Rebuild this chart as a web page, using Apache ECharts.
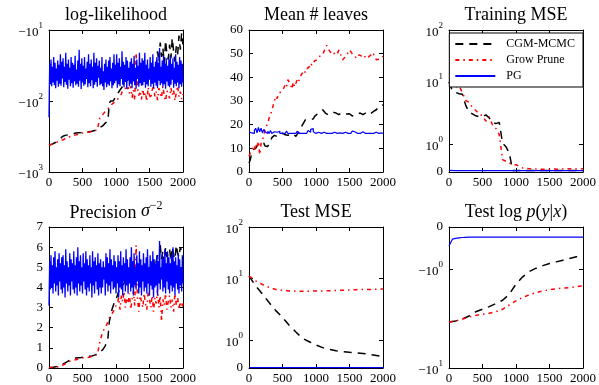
<!DOCTYPE html>
<html><head><meta charset="utf-8">
<script src="https://cdn.jsdelivr.net/npm/echarts@6/dist/echarts.min.js"></script>
<style>html,body{margin:0;padding:0;background:#fff}#c{width:599px;height:385px}</style>
</head><body><div id="c"></div>
<script>
// ---------------- DATA ----------------
const SERIES_NAMES = ['CGM-MCMC', 'Grow Prune', 'PG'];
const X_TICKS = [0, 500, 1000, 1500, 2000];
const STEP_DENSE = 10;   // iterations between samples for PG traces
const STEP_NOISY = 20;   // iterations between samples for noisy traces
const STEP_MSE = 50;
const STEP_SMOOTH = 100;

// log-likelihood (step 20; PG step 10)
const llBlack = [-420,-415,-408,-400,-390,-385,-375,-362,-350,-335,
 -316,-310,-305,-300,-300,-298,-295,-292,-290,-285,
 -283,-282,-280,-280,-278,-276,-275,-275,-274,-272,
 -270,-268,-266,-262,-260,-257,-250,-240,-235,-228,
 -225,-215,-205,-197,-190,-107,-100,-98,-100,-92,
 -88,-80,-75,-70,-66,-62,-58,-55,-52,-50,
 -48,-52,-45,-50,-46,-44,-48,-42,-46,-44,
 -42,-45,-40,-44,-38,-42,-36,-40,-35,-38,
 -32,-20,-28,-15,-24,-18,-30,-14,-22,-26,
 -16,-25,-13,-20,-28,-17,-22,-12,-19,-11,
 -16];
const llRed = [-417,-410,-405,-398,-392,-388,-380,-372,-365,-360,
 -355,-348,-340,-333,-325,-318,-316,-310,-305,-302,
 -300,-296,-292,-288,-285,-283,-280,-278,-276,-275,
 -275,-270,-268,-265,-262,-260,-258,-257,-170,-160,
 -157,-150,-140,-134,-128,-120,-115,-110,-107,-104,
 -100,-95,-90,-86,-80,-70,-74,-66,-72,-64,
 -78,-62,-90,-70,-98,-21,-66,-84,-72,-95,
 -68,-88,-76,-102,-64,-82,-93,-70,-60,-86,
 -74,-97,-66,-80,-90,-62,-85,-100,-72,-78,
 -92,-65,-83,-70,-99,-76,-61,-88,-74,-94,
 -80];
const llBlue = [-170,-30,-58,-26,-62,-33,-55,-24,-60,-29,-66,-35,-52,-27,-63,-31,-57,-22,-61,-28,
 -48,-25,-64,-33,-54,-21,-59,-30,-67,-26,-50,-34,-62,-24,-56,-29,-65,-31,-53,-23,
 -60,-36,-57,-27,-63,-19,-52,-30,-68,-25,-55,-32,-61,-24,-58,-35,-49,-28,-64,-22,
 -56,-30,-62,-26,-51,-33,-66,-21,-59,-29,-54,-25,-63,-32,-47,-27,-60,-34,-57,-24,
 -62,-38,-70,-30,-55,-26,-64,-33,-58,-27,-61,-24,-53,-35,-66,-29,-60,-22,-56,-31,
 -52,-22,-65,-29,-58,-25,-62,-33,-49,-20,-59,-28,-64,-31,-54,-24,-67,-27,-51,-34,
 -62,-28,-57,-25,-66,-30,-53,-23,-60,-34,-67,-26,-49,-32,-63,-21,-56,-29,-61,-25,
 -60,-27,-54,-21,-65,-31,-58,-26,-62,-35,-50,-24,-63,-29,-57,-22,-66,-33,-55,-28,
 -61,-24,-66,-29,-52,-18,-60,-33,-56,-27,-63,-23,-58,-30,-67,-25,-53,-32,-61,-26,
 -64,-23,-59,-30,-50,-25,-65,-34,-57,-22,-62,-28,-55,-31,-66,-24,-58,-27,-63,-30,
 -55];

// Mean # leaves (step 20)
const leavesBlack = [3.8,5.2,8,9.4,9,10,11,12.2,11.5,12.5,
 12.9,12.2,11,10.5,10.8,10.8,13,14.5,15,15.5,
 15.7,15,15.5,16,15.2,16.4,15.8,15.7,16.2,15.5,
 15.7,16,16.4,16.2,15.5,15,16,16.4,17.5,19,
 20,21,22,22.5,22,22.8,22,21.4,22.5,23.5,
 24.2,24.5,24.9,25.5,26,26.3,25.5,24.9,24.5,24.2,
 24.2,25,25.6,25.2,24.9,24.9,24.5,24.2,24.5,24.9,
 24.9,24.5,24.2,24.5,24.6,24.6,24,23.7,23.8,24,
 24.2,24.5,24.9,24.9,24.5,24.2,24.5,24.9,24.6,24.2,
 24.2,24.8,25.6,25.6,26,26.3,27,27.7,27.5,28,
 28.4];
const leavesRed = [6.6,8,9,10.8,9.5,12,10,13,7.3,12,
 13.6,15,18,19.5,20.5,22.8,24,26,28,30,
 32,31,33,32.5,34,34.7,35.5,37,36,39,
 39.6,37,35,38,36,37.5,39,38,40,41,
 41.7,43,42,43.5,44,44.5,46,45,46,47,
 46.6,47.5,48,49,48.5,49.5,51,52.5,53.5,52,
 51.6,50.5,50,51,49.5,48.8,50,51.5,50.5,48.5,
 47.4,48,48.8,49.5,50.5,51.6,51,50,50.5,49,
 48,48.5,49.5,50,49,48.8,49.5,48,47.4,48.5,
 48.8,49.5,50.5,50.9,49,47.4,47.8,47.6,48,48.5,
 48.8];
const leavesBlue = [17,16.5,17,16.3,17.5,18.5,16.5,18.8,17,18.5,
 16.5,18,17,16.3,17.2,16.3,17.5,16.3,17,16.3,
 16.8,16.3,17.2,16.3,16.3,17,16.3,16.5,17.3,16.3,
 16.3,16.8,16.3,17,16.3,16.3,17.2,16.3,16.3,16.8,
 16.3,17,16.3,16.3,17.5,16.8,18,18.3,17,16.3,
 16.3,16.8,16.3,16.3,16.3,16.8,16.3,16.3,16.3,16.3,
 16.5,16.3,16.3,16.8,16.3,16.3,16.3,16.5,16.3,16.3,
 16.3,16.8,16.3,16.3,16.3,16.3,17,17.3,17,16.3,
 16.3,16.8,16.3,16.3,17,16.3,16.3,16.8,16.3,16.3,
 16.3,16.5,16.3,16.3,16.8,16.3,16.3,16.3,16.5,16.3,
 16.3];

// Training MSE (step 50, PG step 100)
const trainMseBlack = [9.8,7.0,6.6,6.3,6.2,4.1,3.2,3.0,2.8,2.7,
 2.7,2.9,2.6,2.2,2.1,2.2,1.02,0.9,0.67,0.05,
 0.05,0.05,0.05,0.05,0.05,0.05,0.05,0.05,0.05,0.05,
 0.05,0.05,0.05,0.05,0.05,0.05,0.05,0.05,0.05,0.05,
 0.05];
const trainMseRed = [9.4,8.9,8.1,8.4,6.6,4.9,4.6,3.8,3.4,3.0,
 2.8,2.3,2.7,2.0,1.76,1.4,0.44,0.38,0.32,0.26,
 0.26,0.2,0.14,0.13,0.12,0.1,0.11,0.1,0.1,0.09,
 0.1,0.12,0.1,0.09,0.11,0.1,0.12,0.1,0.11,0.1,
 0.12];
const trainMseBlue = [0.06,0.05,0.05,0.05,0.05,0.05,0.05,0.05,0.05,0.05,
 0.05,0.05,0.05,0.05,0.05,0.05,0.05,0.05,0.05,0.05,0.05];

// Precision (step 20; PG step 10)
const precBlack = [0.02,0.02,0.03,0.04,0.05,0.06,0.08,0.1,0.12,0.15,
 0.17,0.2,0.25,0.3,0.33,0.4,0.42,0.44,0.46,0.48,
 0.5,0.5,0.51,0.52,0.52,0.53,0.54,0.55,0.56,0.57,
 0.58,0.59,0.6,0.62,0.64,0.66,0.7,0.75,0.8,0.85,
 0.9,1.0,1.1,1.3,1.5,2.3,2.6,2.9,3.1,3.3,
 3.4,3.6,3.8,3.9,4.0,4.1,4.2,4.3,4.2,4.4,
 4.3,4.5,4.4,4.6,4.5,4.4,4.7,4.6,4.8,4.7,
 4.6,4.9,4.7,5.0,4.8,4.9,5.1,4.8,5.2,5.0,
 5.3,5.6,5.0,6.1,5.4,5.8,5.2,6.0,5.5,5.7,
 5.9,5.3,6.0,5.6,5.4,6.1,5.7,5.5,6.0,5.8,
 5.6];
const precRed = [0.02,0.02,0.03,0.03,0.04,0.05,0.05,0.06,0.07,0.09,
 0.13,0.16,0.2,0.24,0.28,0.33,0.35,0.37,0.39,0.4,
 0.41,0.43,0.45,0.47,0.48,0.5,0.51,0.52,0.52,0.53,
 0.53,0.56,0.58,0.6,0.62,0.63,0.66,0.75,1.3,1.55,
 1.8,1.9,2.0,2.15,2.3,2.5,2.55,2.7,2.8,2.95,
 3.1,3.2,3.5,2.9,3.6,3.3,3.8,3.0,3.5,3.2,
 3.7,2.9,3.4,3.8,3.1,6.1,3.5,2.8,3.6,3.3,
 3.0,3.7,3.2,2.9,3.8,3.4,3.0,3.6,2.8,3.5,
 3.2,3.9,3.0,3.6,2.3,3.4,3.1,3.7,2.9,3.3,
 3.6,3.0,3.4,2.8,3.7,3.1,3.5,2.9,3.3,3.0,
 3.2];
const precBlue = [3.1,5.3,3.9,5.6,4.0,5.1,3.7,5.5,4.2,5.8,3.8,5.0,4.1,5.4,3.6,5.7,4.3,5.2,3.9,5.5,
 3.7,5.6,4.0,5.1,3.5,5.9,4.2,5.3,3.8,5.0,4.1,5.7,3.6,5.4,4.3,5.2,3.9,5.8,3.7,5.1,
 4.0,5.5,3.6,6.0,4.2,5.3,3.8,5.6,4.1,5.0,3.7,5.7,4.3,5.2,3.9,5.8,3.6,5.4,4.0,5.1,
 3.8,5.6,4.2,5.0,3.5,5.8,4.1,5.3,3.7,5.5,4.3,5.1,3.9,5.7,3.6,5.2,4.0,5.4,3.7,5.0,
 4.0,5.3,4.4,5.0,3.6,5.7,4.2,5.5,3.8,5.2,4.1,5.9,3.7,5.4,4.3,5.1,3.9,5.6,4.0,5.3,
 3.7,5.0,4.2,5.6,3.5,5.3,4.0,5.8,3.9,5.1,3.6,5.5,4.3,5.2,3.8,5.9,4.1,5.4,3.7,5.0,
 4.2,5.5,3.8,6.0,4.0,5.3,3.6,5.7,4.1,5.0,3.9,5.6,4.3,5.2,3.7,5.8,4.0,5.4,3.6,5.1,
 4.3,5.7,3.8,5.2,4.0,5.5,3.7,5.9,4.2,5.0,3.6,5.6,4.1,5.3,3.9,5.8,3.5,5.4,4.0,5.2,
 4.1,5.6,3.6,5.3,4.2,6.3,3.9,5.0,4.4,5.7,3.8,5.4,4.0,5.9,3.7,5.2,4.3,5.8,3.9,5.5,
 3.7,5.2,4.1,5.6,3.8,6.0,4.0,5.3,3.6,5.5,4.2,5.1,3.9,5.7,3.7,5.4,4.1,5.0,3.8,5.6,
 4.2];

// Test MSE (step 100)
const testMseBlack = [10.8,7.4,5.5,4.0,2.97,2.3,1.73,1.35,1.06,0.94,0.82,0.73,0.67,0.62,0.59,0.56,0.54,0.52,0.49,0.45,0.41];
const testMseRed = [10.8,8.9,7.8,7.0,6.5,6.3,6.15,6.1,6.1,6.1,6.15,6.15,6.2,6.25,6.3,6.35,6.45,6.5,6.5,6.55,6.6];
const testMseBlue = [0.01,0.01,0.01,0.01,0.01,0.01,0.01,0.01,0.01,0.01,0.01,0.01,0.01,0.01,0.01,0.01,0.01,0.01,0.01,0.01,0.01];

// Test log p(y|x) (step 100, PG step 50)
const logpBlack = [-3.43,-3.35,-3.2,-2.98,-2.7,-2.55,-2.4,-2.23,-2.07,-1.8,-1.42,-1.2,-1.06,-0.98,-0.92,-0.87,-0.83,-0.79,-0.75,-0.71,-0.69];
const logpRed = [-3.43,-3.35,-3.2,-3.05,-2.94,-2.87,-2.8,-2.7,-2.55,-2.3,-2.1,-1.94,-1.82,-1.73,-1.66,-1.62,-1.58,-1.56,-1.54,-1.51,-1.48];
const logpBlue = [-0.45,-0.29,-0.27,-0.26,-0.25,-0.245,-0.24,-0.24,-0.24,-0.24,
 -0.24,-0.24,-0.24,-0.24,-0.24,-0.24,-0.24,-0.24,-0.24,-0.24,
 -0.24,-0.24,-0.24,-0.24,-0.24,-0.24,-0.24,-0.24,-0.24,-0.24,
 -0.24,-0.24,-0.24,-0.24,-0.24,-0.24,-0.24,-0.24,-0.24,-0.24,-0.24];

// Symlog-type axis anchors (value -> fraction of axis height)
const MSE_ANCHOR_VALUES = [0, 1, 10, 100];
const MSE_ANCHOR_FRACS = [0, 0.198, 0.64, 1];
const MSE_LABELS = ['0', '{b|10}{s|0}', '{b|10}{s|1}', '{b|10}{s|2}'];
const LP_ANCHOR_VALUES = [0, 1, 10];
const LP_ANCHOR_FRACS = [0, 0.298, 1];
const LP_LABELS = ['0', '{b|−10}{s|0}', '{b|−10}{s|1}'];

// ---------------- RENDER ----------------
const FONT = '"Liberation Serif", "DejaVu Serif", serif';
const STY = {
  'CGM-MCMC': {color: '#000000', width: 1.5, type: [8, 6]},
  'Grow Prune': {color: '#ff0000', width: 1.5, type: [4, 4, 1.5, 4]},
  'PG': {color: '#0000ff', width: 1.2, type: 'solid'}
};
function pairs(arr, step, f) { return arr.map((v, i) => [i * step, f ? f(v) : v]); }
function makeSym(vals, fracs) {
  return function (v) {
    const a = Math.abs(v);
    if (a <= vals[1]) return a / vals[1] * fracs[1];
    for (let k = 1; k < vals.length - 1; k++) {
      if (a <= vals[k + 1] || k === vals.length - 2) {
        return fracs[k] + (fracs[k + 1] - fracs[k]) * Math.log10(a / vals[k]) / Math.log10(vals[k + 1] / vals[k]);
      }
    }
  };
}
const symMse = makeSym(MSE_ANCHOR_VALUES, MSE_ANCHOR_FRACS);
const symLp = makeSym(LP_ANCHOR_VALUES, LP_ANCHOR_FRACS);
const mag = v => Math.abs(v);

const GRIDS = [
  {left: 49, top: 30, width: 134, height: 142},
  {left: 249, top: 30, width: 134, height: 142},
  {left: 449, top: 30, width: 134, height: 142},
  {left: 49, top: 227, width: 134, height: 141},
  {left: 249, top: 227, width: 134, height: 141},
  {left: 449, top: 227, width: 134, height: 141}
];

const RICH = {
  b: {fontFamily: FONT, fontSize: 13, color: '#000', lineHeight: 18, verticalAlign: 'bottom'},
  s: {fontFamily: FONT, fontSize: 9, color: '#000', lineHeight: 18, verticalAlign: 'top'}
};
const axLine = {show: true, onZero: false, lineStyle: {color: '#000', width: 1}};
const tick = {show: true, inside: true, length: 4, lineStyle: {color: '#000', width: 1}};
const lbl = {fontFamily: FONT, fontSize: 13, color: '#000'};

const xAxis = [], yAxis = [];
GRIDS.forEach((g, i) => {
  const base = {type: 'value', gridIndex: i, min: X_TICKS[0], max: X_TICKS[X_TICKS.length - 1], interval: X_TICKS[1] - X_TICKS[0], splitLine: {show: false}, axisLine: axLine, axisTick: tick};
  xAxis.push(Object.assign({}, base, {position: 'bottom', axisLabel: Object.assign({}, lbl, {margin: 4, formatter: v => String(v)})}));
  xAxis.push(Object.assign({}, base, {position: 'top', axisLabel: {show: false}}));
});

function yPair(i, cfg, label) {
  const base = Object.assign({gridIndex: i, splitLine: {show: false}, axisLine: axLine, axisTick: Object.assign({}, tick, cfg.tickCustom ? {customValues: cfg.tickCustom} : {})}, cfg.base);
  yAxis.push(Object.assign({}, base, {position: 'left', axisLabel: Object.assign({}, lbl, {margin: 6, rich: RICH}, label)}));
  yAxis.push(Object.assign({}, base, {position: 'right', axisLabel: {show: false}}));
}
// 0: log-likelihood (negative values on a log scale of magnitude)
yPair(0, {base: {type: 'log', logBase: 10, min: 10, max: 1000, inverse: true}},
  {formatter: v => '{b|−10}{s|' + Math.round(Math.log10(v)) + '}'});
yPair(1, {base: {type: 'value', min: 0, max: 60, interval: 10}}, {});
yPair(2, {base: {type: 'value', min: 0, max: 1}, tickCustom: MSE_ANCHOR_FRACS},
  {customValues: MSE_ANCHOR_FRACS, formatter: v => MSE_LABELS[MSE_ANCHOR_FRACS.findIndex(f => Math.abs(f - v) < 1e-6)] || ''});
yPair(3, {base: {type: 'value', min: 0, max: 7, interval: 1}}, {});
yPair(4, {base: {type: 'value', min: 0, max: 1}, tickCustom: MSE_ANCHOR_FRACS},
  {customValues: MSE_ANCHOR_FRACS, formatter: v => MSE_LABELS[MSE_ANCHOR_FRACS.findIndex(f => Math.abs(f - v) < 1e-6)] || ''});
const LP_NEG = LP_ANCHOR_FRACS.map(f => -f);
yPair(5, {base: {type: 'value', min: -1, max: 0}, tickCustom: LP_NEG},
  {customValues: LP_NEG, formatter: v => LP_LABELS[LP_NEG.findIndex(f => Math.abs(f - v) < 1e-6)] || ''});

function line(g, name, data, extra) {
  return Object.assign({
    type: 'line', name: name, xAxisIndex: 2 * g, yAxisIndex: 2 * g, data: data,
    symbol: 'none', showSymbol: false, animation: false, silent: true, clip: true,
    lineStyle: STY[name], itemStyle: {color: STY[name].color}
  }, extra || {});
}
const [NB, NR, NP] = SERIES_NAMES;
const denseBlue = {lineStyle: Object.assign({}, STY[NP], {width: 1.3})};
const series = [
  line(0, NB, pairs(llBlack, STEP_NOISY, mag)),
  line(0, NR, pairs(llRed, STEP_NOISY, mag)),
  line(0, NP, pairs(llBlue, STEP_DENSE, mag), denseBlue),
  line(1, NB, pairs(leavesBlack, STEP_NOISY)),
  line(1, NR, pairs(leavesRed, STEP_NOISY)),
  line(1, NP, pairs(leavesBlue, STEP_NOISY), {step: 'end'}),
  line(2, NB, pairs(trainMseBlack, STEP_MSE, symMse)),
  line(2, NR, pairs(trainMseRed, STEP_MSE, symMse)),
  line(2, NP, pairs(trainMseBlue, STEP_SMOOTH, symMse)),
  line(3, NB, pairs(precBlack, STEP_NOISY)),
  line(3, NR, pairs(precRed, STEP_NOISY)),
  line(3, NP, pairs(precBlue, STEP_DENSE), denseBlue),
  line(4, NB, pairs(testMseBlack, STEP_SMOOTH, symMse)),
  line(4, NR, pairs(testMseRed, STEP_SMOOTH, symMse)),
  line(4, NP, pairs(testMseBlue, STEP_SMOOTH, symMse)),
  line(5, NB, pairs(logpBlack, STEP_SMOOTH, v => -symLp(v))),
  line(5, NR, pairs(logpRed, STEP_SMOOTH, v => -symLp(v))),
  line(5, NP, pairs(logpBlue, STEP_MSE, v => -symLp(v)))
];

const TSTYLE = {fontFamily: FONT, fontSize: 18, fontWeight: 'normal', color: '#000',
  rich: {
    i: {fontFamily: FONT, fontSize: 18, fontStyle: 'italic', color: '#000'},
    s: {fontFamily: FONT, fontSize: 12, color: '#000', verticalAlign: 'top', lineHeight: 22},
    n: {fontFamily: FONT, fontSize: 18, color: '#000', lineHeight: 22, verticalAlign: 'bottom'}
  }};
function title(text, cx, top) { return {text: text, left: cx, top: top, textAlign: 'center', padding: 0, textStyle: TSTYLE}; }

const option = {
  backgroundColor: '#fff',
  animation: false,
  textStyle: {fontFamily: FONT},
  title: [
    title('log-likelihood', 116, 6),
    title('Mean # leaves', 316, 6),
    title('Training MSE', 516, 6),
    title('{n|Precision }{i|σ}{s|−2}', 116, 200),
    title('Test MSE', 316, 203),
    title('Test log {i|p}({i|y}|{i|x})', 516, 203)
  ],
  legend: {
    data: SERIES_NAMES, orient: 'vertical', right: 16, top: 33,
    itemWidth: 40, itemHeight: 12, itemGap: 4, padding: [5, 8, 5, 5],
    borderColor: '#000', borderWidth: 1, borderRadius: 0, backgroundColor: '#fff',
    selectedMode: false,
    itemStyle: {opacity: 0, borderWidth: 0},
    textStyle: {fontFamily: FONT, fontSize: 12, color: '#000', padding: [0, 0, 0, 6]}
  },
  grid: GRIDS.map(g => Object.assign({containLabel: false}, g)),
  xAxis: xAxis,
  yAxis: yAxis,
  series: series
};
const chart = echarts.init(document.getElementById('c'), null, {renderer: 'canvas'});
chart.setOption(option);
</script></body></html>
